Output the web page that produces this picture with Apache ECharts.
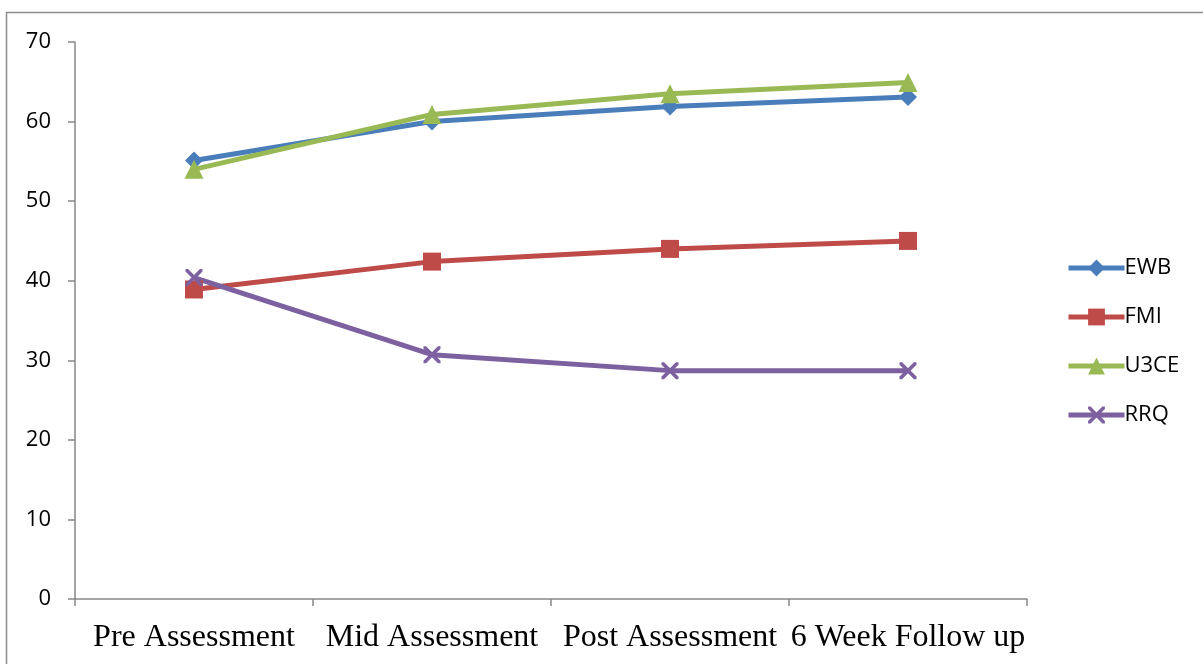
<!DOCTYPE html>
<html>
<head>
<meta charset="utf-8">
<script src="https://cdn.jsdelivr.net/npm/echarts@6/dist/echarts.min.js"></script>
<style>
html,body{margin:0;padding:0;background:#fff;}
#c{width:1203px;height:664px;}
</style>
</head>
<body>
<div id="c"></div>
<script>
const categories = ["Pre Assessment", "Mid Assessment", "Post Assessment", "6 Week Follow up"];
const ewb = [55.1, 60.0, 61.9, 63.1];
const fmi = [38.9, 42.4, 44.0, 45.0];
const u3ce = [54.0, 60.9, 63.5, 64.9];
const rrq = [40.4, 30.7, 28.7, 28.7];
const yTicks = {min: 0, max: 70, interval: 10};

const crossPath = 'path://M0,0L1.5,0L10,8.5L10,10L8.5,10L0,1.5Z M8.5,0L10,0L10,1.5L1.5,10L0,10L0,8.5Z';

const chart = echarts.init(document.getElementById('c'), null, {renderer: 'canvas'});
function mk(name, data, color, symbol, size) {
  return {
    name: name, type: 'line', data: data,
    symbol: symbol, symbolSize: size,
    lineStyle: {color: color, width: 5},
    itemStyle: {color: color},
    emphasis: {disabled: true},
    animation: false
  };
}
chart.setOption({
  animation: false,
  backgroundColor: '#fff',
  graphic: [{
    type: 'rect', shape: {x: 6.5, y: 12.5, width: 1210, height: 700},
    style: {fill: 'none', stroke: '#8c8c8c', lineWidth: 1.5}, silent: true, z: -1
  }],
  grid: {left: 75, right: 176, top: 42, bottom: 65},
  legend: {
    orient: 'vertical', left: 1061, top: 252,
    itemWidth: 56, itemHeight: 21, itemGap: 27,
    lineStyle: {width: 5},
    textStyle: {fontFamily: 'Open Sans', fontSize: 22, lineHeight: 22, color: '#000', padding: [0,0,0,-5]},
    data: ['EWB', 'FMI', 'U3CE', 'RRQ']
  },
  xAxis: {
    type: 'category', data: categories, boundaryGap: true,
    axisLine: {lineStyle: {color: '#888', width: 1.5}},
    axisTick: {show: true, length: 7, inside: false, lineStyle: {color: '#888', width: 1.5}},
    axisLabel: {fontFamily: 'Liberation Serif', fontSize: 32, color: '#000', margin: 23, interval: 0}
  },
  yAxis: {
    type: 'value', min: yTicks.min, max: yTicks.max, interval: yTicks.interval,
    splitLine: {show: false},
    axisLine: {show: true, lineStyle: {color: '#888', width: 1.5}},
    axisTick: {show: true, length: 7, lineStyle: {color: '#888', width: 1.5}},
    axisLabel: {fontFamily: 'Open Sans', fontSize: 22, color: '#000', margin: 24}
  },
  series: [
    mk('EWB', ewb, '#4A7EBB', 'diamond', 18),
    mk('FMI', fmi, '#BE4B48', 'rect', 18),
    mk('U3CE', u3ce, '#98B954', 'triangle', 19),
    mk('RRQ', rrq, '#7D60A0', crossPath, 17)
  ]
});
</script>
</body>
</html>
